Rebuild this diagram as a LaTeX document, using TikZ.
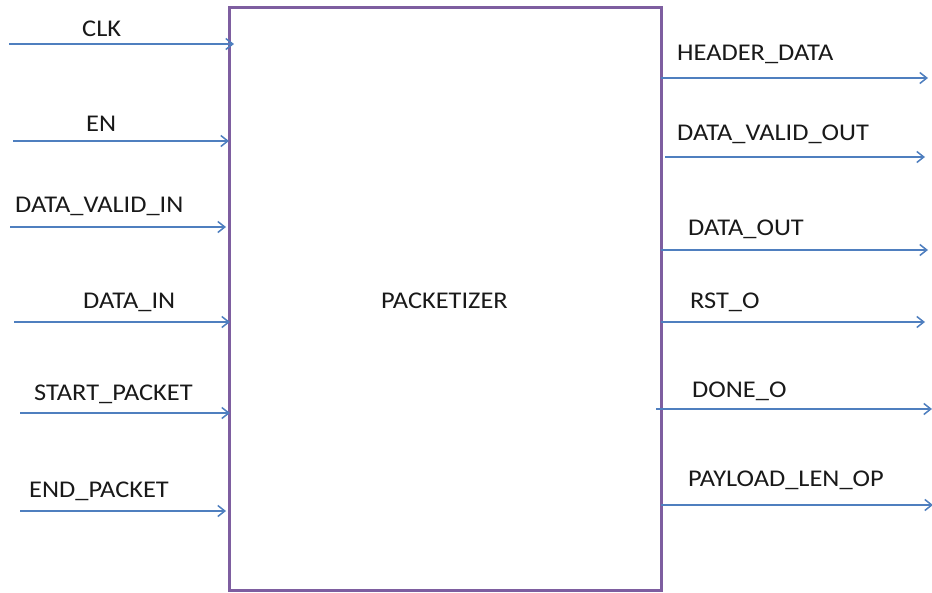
\documentclass[tikz,border=0pt]{standalone}
\usepackage{fontspec}
\setmainfont{Carlito}
\usetikzlibrary{arrows.meta}
\definecolor{boxpurple}{HTML}{7E5EA0}
\definecolor{sigblue}{HTML}{4F7FBF}
\newcommand{\wtxt}[1]{\scalebox{1.1}[1]{#1}}
\tikzset{
  blk/.style={draw=boxpurple, line width=3pt, rectangle, inner sep=0pt},
  sig/.style={draw=sigblue, line width=1.8pt, -{Straight Barb[length=7pt,width=11pt,line width=1.5pt]}},
  lbl/.style={anchor=base west, inner sep=0pt, font=\fontsize{24}{28}\selectfont, text=black!90}
}
\begin{document}
\begin{tikzpicture}[x=1pt,y=-1pt]
\useasboundingbox (0,0) rectangle (932,592);
\node[blk, minimum width=432pt, minimum height=583pt] (pk) at (445,298.5) {};
\node[lbl] (pkl) at (381,308) {\wtxt{PACKETIZER}};
% inputs
\coordinate (i1s) at (9,44);   \coordinate (i1e) at (234,44);
\coordinate (i2s) at (13,141); \coordinate (i2e) at (229,141);
\coordinate (i3s) at (10,227); \coordinate (i3e) at (226,227);
\coordinate (i4s) at (14,322); \coordinate (i4e) at (230,322);
\coordinate (i5s) at (20,413); \coordinate (i5e) at (230,413);
\coordinate (i6s) at (20,511); \coordinate (i6e) at (226,511);
\draw[sig] (i1s) -- (i1e);
\draw[sig] (i2s) -- (i2e);
\draw[sig] (i3s) -- (i3e);
\draw[sig] (i4s) -- (i4e);
\draw[sig] (i5s) -- (i5e);
\draw[sig] (i6s) -- (i6e);
\node[lbl] (l1) at (82,36) {\wtxt{CLK}};
\node[lbl] (l2) at (86,131) {\wtxt{EN}};
\node[lbl] (l3) at (15,212) {\wtxt{DATA\_VALID\_IN}};
\node[lbl] (l4) at (83,308) {\wtxt{DATA\_IN}};
\node[lbl] (l5) at (34,400) {\wtxt{START\_PACKET}};
\node[lbl] (l6) at (29,497) {\wtxt{END\_PACKET}};
% outputs
\coordinate (o1s) at (661,78);  \coordinate (o1e) at (928,78);
\coordinate (o2s) at (665,157); \coordinate (o2e) at (925,157);
\coordinate (o3s) at (661,250); \coordinate (o3e) at (928,250);
\coordinate (o4s) at (661,322); \coordinate (o4e) at (925,322);
\coordinate (o5s) at (656,409); \coordinate (o5e) at (932,409);
\coordinate (o6s) at (661,505); \coordinate (o6e) at (933,505);
\draw[sig] (o1s) -- (o1e);
\draw[sig] (o2s) -- (o2e);
\draw[sig] (o3s) -- (o3e);
\draw[sig] (o4s) -- (o4e);
\draw[sig] (o5s) -- (o5e);
\draw[sig] (o6s) -- (o6e);
\node[lbl] (r1) at (677,60) {\wtxt{HEADER\_DATA}};
\node[lbl] (r2) at (677,140) {\wtxt{DATA\_VALID\_OUT}};
\node[lbl] (r3) at (688,235) {\wtxt{DATA\_OUT}};
\node[lbl] (r4) at (690,308) {\wtxt{RST\_O}};
\node[lbl] (r5) at (692,397) {\wtxt{DONE\_O}};
\node[lbl] (r6) at (688,486) {\wtxt{PAYLOAD\_LEN\_OP}};
\end{tikzpicture}
\end{document}
